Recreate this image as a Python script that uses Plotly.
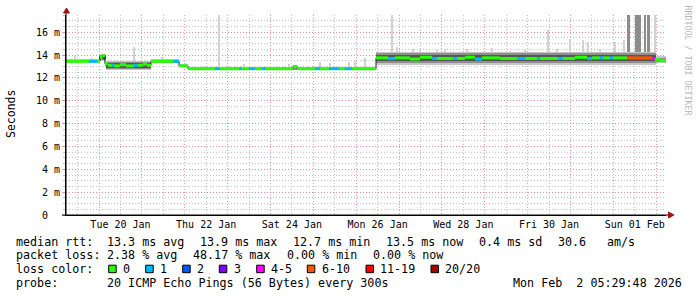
import numpy as np
import pandas as pd
import plotly.graph_objects as go

# ---------------- data ----------------
start_time = pd.Timestamp("2026-01-19 05:29:48")
end_time = pd.Timestamp("2026-02-02 05:29:48")

# median RTT (ms), run-length segments: start hour since start_time, value, loss bucket
med_start_h = [0.0, 12.9, 17.4, 19.0, 20.2, 21.8, 23.5, 25.8, 26.9, 30.2, 33.6, 38.1, 40.3, 43.1, 45.4,
               47.6, 59.9, 63.3, 68.3, 83.4, 86.2, 96.9, 98.6, 102.5, 105.8, 109.8, 112.0, 127.1, 129.4,
               139.4, 142.2, 147.3, 152.9, 156.2, 160.2, 173.6, 180.3, 184.2, 192.6, 198.2, 205.0, 207.8,
               216.7, 219.0, 223.4, 229.0, 233.0, 243.0, 252.6, 257.0, 263.8, 265.4, 275.5, 278.3, 285.0,
               291.8, 294.6, 299.0, 300.7, 304.6, 306.3, 314.2, 328.2, 329.8, 332.6]
med_ms = [13.45, 13.45, 13.45, 13.8, 13.95, 13.25, 13.1, 13.1, 13.05, 13.15, 13.05, 13.1, 13.1, 13.2, 13.1,
          13.45, 13.45, 13.05, 12.8, 12.8, 12.8, 12.8, 12.8, 12.8, 12.8, 12.8, 12.8, 13.0, 12.8,
          12.8, 12.8, 12.8, 12.8, 12.8, 12.8, 13.75, 13.7, 13.75, 13.65, 13.8, 13.7, 13.7,
          13.7, 13.7, 13.8, 13.65, 13.75, 13.7, 13.7, 13.7, 13.7, 13.7, 13.7, 13.7, 13.8,
          13.7, 13.75, 13.75, 13.75, 13.75, 13.75, 13.75, 13.7, 13.6, 13.5]
med_loss = [0, 1, 0, 0, 0, 0, 0, 1, 0, 0, 0, 1, 0, 0, 0,
            0, 1, 0, 0, 1, 0, 1, 0, 1, 0, 1, 0, 0, 0,
            1, 0, 1, 0, 1, 0, 0, 1, 0, 0, 0, 1, 0,
            1, 0, 0, 1, 0, 0, 1, 0, 1, 0, 1, 0, 0,
            1, 0, 1, 0, 1, 0, 5, 4, 0, 0]
span_hours = 336.0

# smoke (ping spread) bands, run-length: start hour, low / high in ms
smoke_start_h = [0.0, 18.5, 22.4, 47.6, 63.3, 68.3, 173.6, 330.4]
outer_lo = [13.30, 13.45, 12.70, 13.32, 12.92, 12.66, 13.15, 13.30]
outer_hi = [13.62, 14.05, 13.50, 13.62, 13.20, 12.98, 14.30, 13.90]
mid_lo = [13.36, 13.55, 12.78, 13.38, 12.96, 12.70, 13.28, 13.38]
mid_hi = [13.55, 14.00, 13.42, 13.55, 13.14, 12.90, 14.15, 13.75]
inner_lo = [None, 13.65, 12.88, None, None, None, 13.45, None]
inner_hi = [None, 13.95, 13.30, None, None, None, 14.00, None]

# single-ping outliers (max ping), hour and top value (ms)
spike_h = [5.0, 14.6, 38.1, 53.8, 85.7, 99.7, 124.9, 142.2, 147.8, 158.5, 161.8, 167.4,
           182.6, 185.4, 194.3, 198.2, 207.8, 212.2, 224.6, 231.8, 238.6, 248.6, 257.0, 269.9,
           274.9, 282.2, 289.5, 292.3, 299.0, 307.4, 312.5, 329.8]
spike_top = [13.9, 13.7, 14.7, 13.8, 17.5, 13.2, 13.25, 13.4, 13.3, 13.35, 13.5, 13.7,
             17.5, 14.7, 14.55, 14.4, 14.4, 14.5, 14.55, 14.3, 14.6, 14.35, 14.4, 16.2,
             14.55, 15.4, 15.35, 15.15, 14.5, 15.15, 15.3, 17.5]
# heavy-loss period outliers: start hour, end hour, top
dspike_start_h = [314.4, 318.6, 323.7, 325.9]
dspike_end_h = [315.8, 322.0, 324.8, 327.0]
dspike_top = [17.5, 17.5, 17.5, 17.5]

loss_labels = ["0", "1", "2", "3", "4-5", "6-10", "11-19", "20/20"]
loss_colors = ["#26ff00", "#00b8ff", "#0059ff", "#7e00ff", "#ff00ff", "#ff5500", "#ff0000", "#a10000"]

rtt_stats = [13.3, 13.9, 12.7, 13.5, 0.4]   # avg, max, min, now, sd
am_s = 30.6
loss_stats = [2.38, 48.17, 0.00, 0.00]      # avg, max, min, now

x_label_days = ["2026-01-20", "2026-01-22", "2026-01-24", "2026-01-26",
                "2026-01-28", "2026-01-30", "2026-02-01"]
x_label_text = ["Tue 20 Jan", "Thu 22 Jan", "Sat 24 Jan", "Mon 26 Jan",
                "Wed 28 Jan", "Fri 30 Jan", "Sun 01 Feb"]
y_tick_vals = [0, 2, 4, 6, 8, 10, 12, 14, 16]
y_tick_text = ["0\u00a0\u00a0", "2 m", "4 m", "6 m", "8 m", "10 m", "12 m", "14 m", "16 m"]

# ---------------- helpers ----------------
HOUR_MS = 3600 * 1000


def to_time(h):
    return [start_time + pd.Timedelta(hours=v) for v in h]


def seg_ends(starts):
    return list(starts[1:]) + [span_hours]


def band_trace(starts, lo, hi, color):
    ends = seg_ends(starts)
    xs, bs, ys, ws = [], [], [], []
    for s, e, l, h in zip(starts, ends, lo, hi):
        if l is None or h is None:
            continue
        xs.append(start_time + pd.Timedelta(hours=s))
        bs.append(l)
        ys.append(h - l)
        ws.append((e - s) * HOUR_MS)
    return go.Bar(x=xs, y=ys, base=bs, width=ws, offset=0, marker=dict(color=color, line=dict(width=0)),
                  hoverinfo="skip")


fig = go.Figure()

# light outliers, from the median up to the max ping
med_end_h = seg_ends(med_start_h)
spike_base = [med_ms[int(np.searchsorted(med_start_h, h, side="right")) - 1] for h in spike_h]
fig.add_trace(go.Bar(x=to_time(spike_h), y=[t - b for t, b in zip(spike_top, spike_base)], base=spike_base,
                     width=[1.0 * HOUR_MS] * len(spike_h), marker=dict(color="#d2d2d2", line=dict(width=0)),
                     hoverinfo="skip"))
dspike_base = [med_ms[int(np.searchsorted(med_start_h, h, side="right")) - 1] for h in dspike_start_h]
fig.add_trace(go.Bar(x=to_time(dspike_start_h), y=[t - b for t, b in zip(dspike_top, dspike_base)],
                     base=dspike_base, offset=0,
                     width=[(e - s) * HOUR_MS for s, e in zip(dspike_start_h, dspike_end_h)],
                     marker=dict(color="#8c8c8c", line=dict(width=0)), hoverinfo="skip"))

# smoke
fig.add_trace(band_trace(smoke_start_h, outer_lo, outer_hi, "#c6c6c6"))
fig.add_trace(band_trace(smoke_start_h, mid_lo, mid_hi, "#8e8e8e"))
fig.add_trace(band_trace(smoke_start_h, inner_lo, inner_hi, "#555555"))

# thin dark median line (visible at the steps)
fig.add_trace(go.Scatter(x=to_time(med_start_h + [span_hours]), y=med_ms + [med_ms[-1]], mode="lines",
                         line=dict(color="#202020", width=1, shape="hv"), hoverinfo="skip"))

# loss-coloured median segments (one trace per loss bucket, horizontal pieces only)
for ci, col in enumerate(loss_colors):
    xs, ys = [], []
    for s, e, v, c in zip(med_start_h, med_end_h, med_ms, med_loss):
        if c != ci:
            continue
        xs += [start_time + pd.Timedelta(hours=s), start_time + pd.Timedelta(hours=e), None]
        ys += [v, v, None]
    if xs:
        fig.add_trace(go.Scatter(x=xs, y=ys, mode="lines", line=dict(color=col, width=3),
                                 connectgaps=False, hoverinfo="skip"))

# ---------------- layout ----------------
L, T, W, H = 66, 15, 600, 200


def px(x):
    return (x - L) / W


def py(y):
    return (T + H - y) / H


MONO = "DejaVu Sans Mono"
MAJ = "rgba(226,128,128,0.75)"
MIN = "rgba(170,170,170,0.7)"
DASH = "1px,2px"

noons = pd.date_range("2026-01-19 12:00", "2026-02-01 12:00", freq="D")
label_map = {pd.Timestamp(d) + pd.Timedelta(hours=12): t for d, t in zip(x_label_days, x_label_text)}
tick_text = [label_map.get(n, "") for n in noons]

fig.update_layout(
    width=697, height=297, margin=dict(l=L, r=697 - L - W, t=T, b=297 - T - H),
    paper_bgcolor="white", plot_bgcolor="white", showlegend=False,
    barmode="overlay", bargap=0,
    font=dict(family=MONO, size=10, color="black"),
    xaxis=dict(type="date", range=[start_time, end_time], tickmode="array", tickvals=list(noons),
               ticktext=tick_text, ticks="", showgrid=True, gridcolor=MIN, griddash=DASH, gridwidth=1,
               showline=True, linecolor="black", linewidth=1, zeroline=False,
               tickfont=dict(family=MONO, size=10, color="black"),
               minor=dict(tickmode="linear", tick0="2026-01-20", dtick=86400000, showgrid=True,
                          gridcolor=MAJ, griddash=DASH, gridwidth=1, ticks="")),
    yaxis=dict(range=[0, 17.5], tickmode="array", tickvals=y_tick_vals, ticktext=y_tick_text,
               showgrid=True, gridcolor=MAJ, griddash=DASH, gridwidth=1, zeroline=False,
               showline=True, linecolor="black", linewidth=1,
               ticks="outside", ticklen=3, tickcolor=MAJ,
               tickfont=dict(family=MONO, size=10, color="black"),
               minor=dict(tickmode="linear", tick0=0, dtick=0.5, showgrid=True, gridcolor=MIN,
                          griddash=DASH, gridwidth=1, ticks="outside", ticklen=2, tickcolor=MIN)),
)

ann = []


def text_at(x, y, s, size=11.7, color="black", family=MONO, **kw):
    d = dict(x=px(x), y=py(y), xref="paper", yref="paper", text=s, showarrow=False,
             xanchor="left", yanchor="middle", borderpad=0, borderwidth=0,
             font=dict(family=family, size=size, color=color))
    d.update(kw)
    ann.append(d)


# legend block
y1, y2, y3, y4 = 241.7, 255.2, 269.0, 283.3
text_at(16, y1, "median rtt:")
rtt_names = ["avg", "max", "min", "now"]
for xp, v, n in zip([107, 200, 293, 386], rtt_stats[:4], rtt_names):
    text_at(xp, y1, f"{v:.1f} ms {n}")
text_at(479, y1, f"{rtt_stats[4]:.1f} ms sd")
text_at(558, y1, f"{am_s:.1f}")
text_at(607, y1, "am/s")

text_at(16, y2, "packet loss:")
for xp, v, n in zip([107, 193, 286.5, 372.5], loss_stats, rtt_names):
    text_at(xp, y2, f"{v:.2f} % {n}")

text_at(16, y3, "loss color:")
sq_x = [108.7, 145.7, 182.7, 219.3, 256.7, 307.3, 366.0, 431.0]
shapes = []
for xs, lab, col in zip(sq_x, loss_labels, loss_colors):
    shapes.append(dict(type="rect", xref="paper", yref="paper", x0=px(xs), x1=px(xs + 7.5),
                       y0=py(265.2), y1=py(272.7), fillcolor=col, line=dict(color="black", width=1)))
    text_at(xs + 14.3, y3, lab)

text_at(16, y4, "probe:")
text_at(107.3, y4, "20 ICMP Echo Pings (56 Bytes) every 300s")
text_at(513.3, y4, "Mon Feb \u00a02 05:29:48 2026")

# axis title & watermark
ann.append(dict(x=px(11), y=py(114), xref="paper", yref="paper", text="Seconds", showarrow=False,
                textangle=-90, xanchor="center", yanchor="middle",
                font=dict(family=MONO, size=11.5, color="black")))
ann.append(dict(x=px(687.5), y=py(60), xref="paper", yref="paper", text="RRDTOOL / TOBI OETIKER",
                showarrow=False, textangle=90, xanchor="center", yanchor="middle",
                font=dict(family=MONO, size=8.3, color="#b8b8b8")))

# axis arrows / extensions
ARROW = "#a01414"
shapes.append(dict(type="line", xref="paper", yref="paper", x0=px(66), x1=px(66), y0=py(215), y1=py(11),
                   line=dict(color="black", width=1)))
shapes.append(dict(type="line", xref="paper", yref="paper", x0=px(62), x1=px(669), y0=py(215), y1=py(215),
                   line=dict(color="black", width=1)))
shapes.append(dict(type="path", xref="paper", yref="paper",
                   path=f"M {px(63.5)} {py(13)} L {px(66.5)} {py(8)} L {px(69.5)} {py(13)} Z",
                   fillcolor=ARROW, line=dict(color=ARROW, width=1)))
shapes.append(dict(type="path", xref="paper", yref="paper",
                   path=f"M {px(668.5)} {py(212)} L {px(674)} {py(215)} L {px(668.5)} {py(218)} Z",
                   fillcolor=ARROW, line=dict(color=ARROW, width=1)))

fig.update_layout(annotations=ann, shapes=shapes)
fig.write_html("out.html")
